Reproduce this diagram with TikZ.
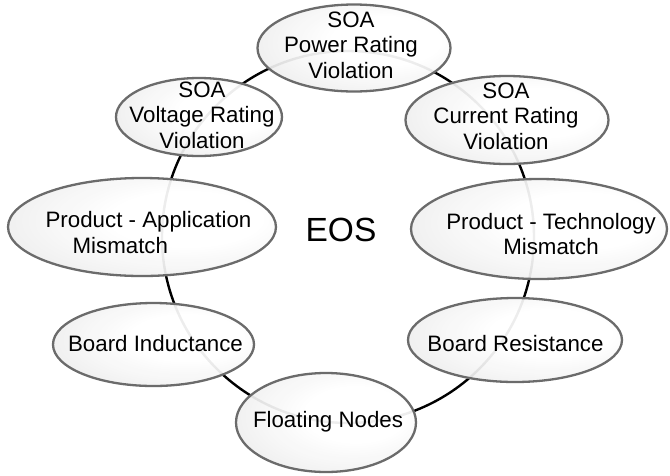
\documentclass[tikz,border=0pt]{standalone}
\usepackage{fontspec}
\setmainfont{Liberation Sans}
\usetikzlibrary{shapes.geometric}

% soft radial fill, brightest slightly right of and above the centre
\pgfdeclareradialshading{ovalshade}{\pgfpoint{10bp}{5bp}}{%
  color(0bp)=(white);
  color(14bp)=(white);
  color(42bp)=(black!10);
  color(60bp)=(black!24);
  color(80bp)=(black!24)}

\tikzset{
  ring/.style={draw=black, line width=2.4pt},
  oval/.style={ellipse, draw=black!58, line width=2.3pt, shading=ovalshade,
    fill opacity=0.93, inner sep=0pt, outer sep=0pt},
  lbl/.style={font=\fontsize{22.3}{25.5}\selectfont, inner sep=0pt, text=black},
}

\begin{document}
\begin{tikzpicture}[x=1pt, y=-1pt]
  \useasboundingbox (0,0) rectangle (670,475);

  % the loop that links all causes
  \node[ring, circle, minimum size=372pt, inner sep=0pt] (loop) at (348,237) {};

  % causes, as ovals sitting on the loop
  \node[oval, minimum width=193pt, minimum height=87pt]  (pwr) at (354,48) {};
  \node[oval, minimum width=166pt, minimum height=78pt]  (vlt) at (199,117) {};
  \node[oval, minimum width=203pt, minimum height=88pt]  (cur) at (507,120) {};
  \node[oval, minimum width=268pt, minimum height=98pt]  (app) at (142,227) {};
  \node[oval, minimum width=256pt, minimum height=100pt] (tec) at (539,229) {};
  \node[oval, minimum width=201pt, minimum height=83pt]  (ind) at (153.5,344.5) {};
  \node[oval, minimum width=214pt, minimum height=84pt]  (res) at (515,340) {};
  \node[oval, minimum width=180pt, minimum height=99pt]  (flt) at (326,422.5) {};

  % texts
  \node[lbl, align=center] (pwr-t) at (351,45) {SOA\\Power Rating\\Violation};
  \node[lbl, align=center] (vlt-t) at (202,115) {SOA\\Voltage Rating\\Violation};
  \node[lbl, align=center] (cur-t) at (506,116) {SOA\\Current Rating\\Violation};
  \node[lbl, align=left]   (app-t) at (148.5,232.5) {Product - Application\\\hspace*{27pt}Mismatch};
  \node[lbl, align=center] (tec-t) at (551,234) {Product - Technology\\Mismatch};
  \node[lbl] (ind-t) at (155.5,344) {Board Inductance};
  \node[lbl] (res-t) at (515.5,344) {Board Resistance};
  \node[lbl] (flt-t) at (328,422) {Floating Nodes};

  % central title
  \node[font=\fontsize{33.5}{36}\selectfont, inner sep=0pt] (eos) at (341,230) {EOS};
\end{tikzpicture}
\end{document}
